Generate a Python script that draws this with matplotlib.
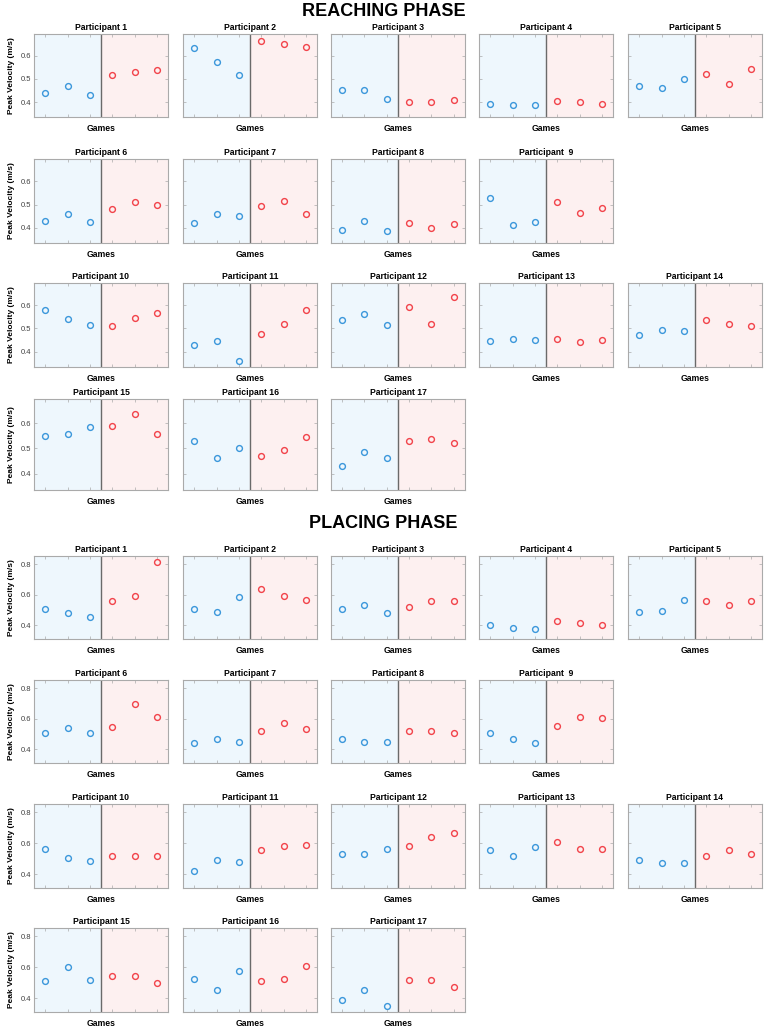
import numpy as np
import matplotlib
matplotlib.use('Agg')
import matplotlib.pyplot as plt

plt.rcParams['font.family'] = ['Liberation Sans', 'DejaVu Sans']

# Peak velocity (m/s) per participant: 3 games before | 3 games after
reach_before = [
    [0.44, 0.47, 0.43], [0.635, 0.575, 0.515], [0.45, 0.45, 0.415], [0.39, 0.385, 0.387],
    [0.47, 0.46, 0.50], [0.43, 0.46, 0.425], [0.42, 0.46, 0.45], [0.39, 0.43, 0.385],
    [0.53, 0.41, 0.425], [0.58, 0.54, 0.515], [0.43, 0.445, 0.36], [0.535, 0.56, 0.515],
    [0.445, 0.455, 0.45], [0.47, 0.495, 0.49], [0.55, 0.555, 0.585], [0.53, 0.46, 0.50],
    [0.43, 0.485, 0.46],
]
reach_after = [
    [0.515, 0.53, 0.54], [0.665, 0.65, 0.64], [0.40, 0.40, 0.41], [0.405, 0.40, 0.39],
    [0.52, 0.48, 0.545], [0.48, 0.51, 0.50], [0.495, 0.515, 0.46], [0.42, 0.40, 0.415],
    [0.51, 0.465, 0.485], [0.51, 0.545, 0.565], [0.475, 0.52, 0.58], [0.59, 0.52, 0.635],
    [0.455, 0.44, 0.45], [0.535, 0.52, 0.51], [0.59, 0.635, 0.555], [0.47, 0.495, 0.545],
    [0.53, 0.535, 0.52],
]
place_before = [
    [0.51, 0.48, 0.455], [0.505, 0.485, 0.585], [0.51, 0.53, 0.48], [0.40, 0.385, 0.375],
    [0.49, 0.495, 0.565], [0.505, 0.54, 0.505], [0.44, 0.465, 0.45], [0.465, 0.45, 0.45],
    [0.51, 0.47, 0.44], [0.56, 0.505, 0.485], [0.42, 0.49, 0.48], [0.53, 0.53, 0.56],
    [0.555, 0.52, 0.575], [0.49, 0.475, 0.47], [0.51, 0.60, 0.52], [0.525, 0.455, 0.575],
    [0.385, 0.455, 0.35],
]
place_after = [
    [0.56, 0.59, 0.815], [0.64, 0.59, 0.565], [0.52, 0.56, 0.56], [0.43, 0.415, 0.40],
    [0.56, 0.53, 0.56], [0.545, 0.70, 0.615], [0.52, 0.57, 0.535], [0.52, 0.52, 0.505],
    [0.555, 0.615, 0.605], [0.52, 0.515, 0.52], [0.555, 0.58, 0.59], [0.58, 0.64, 0.67],
    [0.61, 0.565, 0.56], [0.515, 0.555, 0.53], [0.545, 0.545, 0.50], [0.51, 0.525, 0.61],
    [0.52, 0.52, 0.47],
]
titles = ['Participant %d' % i if i != 9 else 'Participant  9' for i in range(1, 18)]
row_groups = [[0, 1, 2, 3, 4], [5, 6, 7, 8], [9, 10, 11, 12, 13], [14, 15, 16]]

W, H = 767, 1031
fig = plt.figure(figsize=(W / 100, H / 100), dpi=100)

col_left = [34, 183, 331, 479, 628]
ax_w = 134
BLUE = '#3b97db'
RED = '#f2434a'


def draw_section(before, after, rows_px, ylim, yticks, title, title_y):
    fig.text(0.5, 1 - title_y / H, title, ha='center', va='center',
             fontsize=13, fontweight='bold')
    for r, group in enumerate(row_groups):
        top, bot = rows_px[r]
        for c, p in enumerate(group):
            ax = fig.add_axes([col_left[c] / W, 1 - bot / H, ax_w / W, (bot - top) / H])
            ax.axvspan(0.5, 3.5, color='#eef7fd', zorder=0)
            ax.axvspan(3.5, 6.5, color='#fdf0f0', zorder=0)
            ax.axvline(3.5, color='#6a6a6a', lw=1.0, zorder=1)
            ax.plot([1, 2, 3], before[p], 'o', mfc='none', mec=BLUE, ms=4.2, mew=1.0, zorder=3)
            ax.plot([4, 5, 6], after[p], 'o', mfc='none', mec=RED, ms=4.2, mew=1.0, zorder=3)
            ax.set_xlim(0.5, 6.5)
            ax.set_ylim(*ylim)
            ax.set_xticks([1, 2, 3, 4, 5, 6])
            ax.set_xticklabels([])
            ax.set_yticks(yticks)
            if c == 0:
                ax.set_yticklabels(['%.1f' % t for t in yticks], fontsize=5.5)
                ax.set_ylabel('Peak Velocity (m/s)', fontsize=6, fontweight='bold', labelpad=4)
            else:
                ax.set_yticklabels([])
            ax.tick_params(direction='in', length=2, width=0.5, colors='#aaaaaa',
                           top=True, right=True, pad=2)
            for lab in ax.get_yticklabels():
                lab.set_color('#404040')
            for s in ax.spines.values():
                s.set_color('#aaaaaa')
                s.set_linewidth(0.8)
            ax.set_title(titles[p], fontsize=6.2, fontweight='bold', pad=3)
            ax.set_xlabel('Games', fontsize=6.2, fontweight='bold', labelpad=3)


draw_section(reach_before, reach_after,
             [(34, 117), (159, 243), (283, 367), (399, 490)],
             (0.335, 0.695), [0.4, 0.5, 0.6], 'REACHING PHASE', 11)
draw_section(place_before, place_after,
             [(556, 639), (680, 763), (804, 888), (928, 1012)],
             (0.31, 0.855), [0.4, 0.6, 0.8], 'PLACING PHASE', 523)

fig.savefig('out.png', dpi=100)
